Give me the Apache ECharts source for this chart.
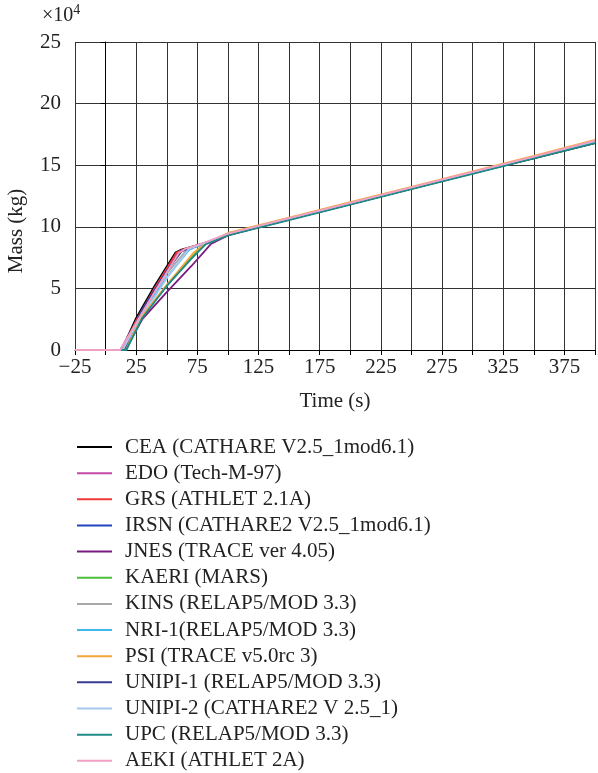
<!DOCTYPE html>
<html>
<head>
<meta charset="utf-8">
<script src="https://cdn.jsdelivr.net/npm/echarts@6/dist/echarts.min.js"></script>
<style>html,body{margin:0;padding:0;background:#fff}#c{width:598px;height:773px}</style>
</head>
<body>
<div id="c"></div>
<script>
// Time (s) and mass (x10^4 kg) pairs for each participant
const seriesNames = [
  'CEA (CATHARE V2.5_1mod6.1)', 'EDO (Tech-M-97)', 'GRS (ATHLET 2.1A)',
  'IRSN (CATHARE2 V2.5_1mod6.1)', 'JNES (TRACE ver 4.05)', 'KAERI (MARS)',
  'KINS (RELAP5/MOD 3.3)', 'NRI-1(RELAP5/MOD 3.3)', 'PSI (TRACE v5.0rc 3)',
  'UNIPI-1 (RELAP5/MOD 3.3)', 'UNIPI-2 (CATHARE2 V 2.5_1)', 'UPC (RELAP5/MOD 3.3)',
  'AEKI (ATHLET 2A)'
];
const seriesColors = ['#000000','#c04aa8','#f03a3a','#2244c0','#7a1a80','#4cbf3a',
  '#a8a8a8','#40b8ec','#f4a63a','#3a3a94','#a6c8ee','#1f8a86','#f0a0c4'];

const cea    = [[-25,0],[13,0],[25,2.6],[40,5.2],[57,7.9],[62,8.15],[80,8.65],[100,9.35],[150,10.6],[200,11.85],[250,13.1],[300,14.35],[350,15.55],[400,16.8]];
const edo    = [[-25,0],[12,0],[25,2.3],[40,4.9],[59,7.9],[64,8.15],[82,8.7],[100,9.4],[150,10.65],[200,11.9],[250,13.15],[300,14.4],[350,15.65],[400,16.9]];
const grs    = [[-25,0],[14,0],[25,2.4],[40,5.0],[58,7.9],[63,8.15],[82,8.7],[100,9.4],[150,10.65],[200,11.9],[250,13.15],[300,14.4],[350,15.65],[400,16.9]];
const irsn   = [[-25,0],[15,0],[30,3.2],[50,6.4],[61,8.0],[66,8.2],[85,8.75],[100,9.35],[150,10.6],[200,11.85],[250,13.1],[300,14.35],[350,15.6],[400,16.85]];
const jnes   = [[-25,0],[16,0],[30,2.5],[50,4.7],[70,6.8],[86,8.6],[100,9.3],[150,10.6],[200,11.85],[250,13.1],[300,14.35],[350,15.6],[400,16.85]];
const kaeri  = [[-25,0],[16,0],[30,2.7],[50,5.2],[70,7.5],[81,8.6],[100,9.35],[150,10.6],[200,11.85],[250,13.1],[300,14.35],[350,15.6],[400,16.85]];
const kins   = [[-25,0],[14,0],[30,3.2],[50,6.2],[66,8.1],[70,8.25],[85,8.75],[100,9.4],[150,10.65],[200,11.9],[250,13.15],[300,14.4],[350,15.65],[400,16.9]];
const nri1   = [[-25,0],[15,0],[30,3.0],[50,5.9],[68,8.1],[72,8.3],[86,8.75],[100,9.4],[150,10.65],[200,11.9],[250,13.15],[300,14.4],[350,15.65],[400,16.9]];
const psi    = [[-25,0],[15,0],[30,2.8],[50,5.3],[72,7.9],[80,8.55],[100,9.5],[150,10.75],[200,12.0],[250,13.25],[300,14.5],[350,15.75],[400,17.05]];
const unipi1 = [[-25,0],[15,0],[30,3.3],[50,6.4],[62,8.0],[67,8.2],[85,8.75],[100,9.35],[150,10.6],[200,11.85],[250,13.1],[300,14.35],[350,15.6],[400,16.85]];
const unipi2 = [[-25,0],[14,0],[30,3.0],[40,4.3],[52,6.1],[68,8.2],[72,8.35],[86,8.8],[100,9.4],[150,10.65],[200,11.9],[250,13.15],[300,14.4],[350,15.65],[400,16.9]];
const upc    = [[-25,0],[17,0],[30,2.6],[50,5.2],[70,7.4],[82,8.6],[100,9.3],[150,10.55],[200,11.8],[250,13.05],[300,14.3],[350,15.55],[400,16.8]];
const aeki   = [[-25,0],[12,0],[25,2.2],[40,4.7],[60,7.9],[65,8.2],[82,8.75],[100,9.45],[150,10.7],[200,11.95],[250,13.2],[300,14.45],[350,15.7],[400,17.0]];
const seriesData = [cea, edo, grs, irsn, jnes, kaeri, kins, nri1, psi, unipi1, unipi2, upc, aeki];

const xTicks = {min: -25, max: 400, step: 25};
const yTicks = {min: 0, max: 25, step: 5};

const font = 'Liberation Serif';
const fs = 21;
const chart = echarts.init(document.getElementById('c'), null, {renderer: 'canvas'});

const series = seriesNames.map((n, i) => ({
  name: n, type: 'line', data: seriesData[i], symbol: 'none', showSymbol: false,
  lineStyle: {color: seriesColors[i], width: 1.8}, itemStyle: {color: seriesColors[i]},
  z: 3, animation: false
}));

// one legend row per entry so rows sit at fixed spacing without wrapping
const legends = seriesNames.map((n, i) => ({
  show: true, orient: 'vertical', left: 77, top: 447 + i * 26.15 - 10.5, padding: 0,
  itemWidth: 35, itemHeight: 2, icon: 'rect', data: [n],
  textStyle: {fontFamily: font, fontSize: fs, color: '#222', lineHeight: 21, padding: [0, 0, 0, 8]},
  selectedMode: false
}));

chart.setOption({
  animation: false,
  textStyle: {fontFamily: font},
  grid: {left: 75, top: 42, width: 525, height: 308, containLabel: false},
  xAxis: {
    type: 'value', min: xTicks.min, max: xTicks.max, interval: xTicks.step,
    name: 'Time (s)', nameLocation: 'middle', nameGap: 41,
    nameTextStyle: {fontFamily: font, fontSize: fs, color: '#222'},
    axisLine: {show: true, onZero: false, lineStyle: {color: '#000', width: 1}},
    axisTick: {show: true, length: 5, lineStyle: {color: '#000'}},
    axisLabel: {fontFamily: font, fontSize: fs, color: '#222', margin: 7,
      formatter: v => ((v + 25) % 50 === 0 && v <= 375) ? String(v).replace('-', '\u2212') : ''},
    splitLine: {show: true, lineStyle: {color: '#333', width: 1}}
  },
  yAxis: {
    type: 'value', min: yTicks.min, max: yTicks.max, interval: yTicks.step,
    axisLine: {show: true, lineStyle: {color: '#000', width: 1}},
    axisTick: {show: true, length: 5, lineStyle: {color: '#000'}},
    axisLabel: {fontFamily: font, fontSize: fs, color: '#222', margin: 14},
    splitLine: {show: true, lineStyle: {color: '#333', width: 1}}
  },
  legend: legends,
  graphic: [{
    type: 'text', left: 42, top: 3,
    style: {
      text: '{a|\u00d710}{b|4}',
      rich: {
        a: {fontFamily: font, fontSize: 20, fill: '#222', verticalAlign: 'bottom'},
        b: {fontFamily: font, fontSize: 14, fill: '#222', verticalAlign: 'top', padding: [0, 0, 9, 0]}
      }
    }
  }, {
    type: 'text', x: 16.5, y: 231, rotation: Math.PI / 2,
    style: {text: 'Mass (kg)', fontFamily: font, fontSize: fs, fill: '#222', align: 'center', verticalAlign: 'middle'}
  }],
  series: series
});
</script>
</body>
</html>
